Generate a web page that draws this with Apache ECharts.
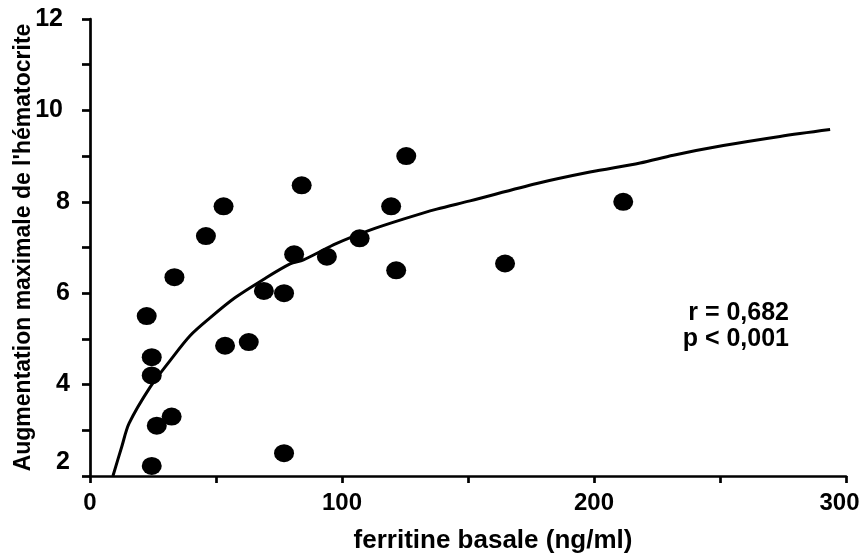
<!DOCTYPE html>
<html>
<head>
<meta charset="utf-8">
<script src="https://cdn.jsdelivr.net/npm/echarts@6/dist/echarts.min.js"></script>
<style>
html,body{margin:0;padding:0;background:#fff;}
#chart{width:864px;height:553px;}
</style>
</head>
<body>
<div id="chart"></div>
<script>
// Scatter points: ferritine basale (ng/ml) vs augmentation maximale de l'hématocrite
const pointX = [22.5, 24.5, 24.5, 24.5, 26.5, 32.4, 33.5, 46, 53, 53.6, 63, 69, 77, 77, 81, 84, 94, 107, 119.5, 121.5, 125.5, 164.7, 211.6];
const pointY = [5.5, 4.6, 4.2, 2.22, 3.1, 3.3, 6.35, 7.25, 7.9, 4.85, 4.93, 6.05, 6.0, 2.5, 6.85, 8.36, 6.8, 7.2, 7.9, 6.5, 9.0, 6.65, 8.0];

// Trend curve, points
const curveX = [9.1, 12.6, 15.5, 23.8, 31.7, 39.7, 47.6, 57.5, 68.8, 79.4, 84.7, 97.9, 111.1, 124.3, 137.6, 150.8, 177.3, 198.4, 218.3, 231.5, 251.3, 273.8, 293.7];
const curveY = [2.0, 2.64, 3.15, 3.94, 4.52, 5.07, 5.46, 5.9, 6.30, 6.64, 6.73, 7.09, 7.38, 7.62, 7.84, 8.02, 8.40, 8.65, 8.85, 9.02, 9.23, 9.43, 9.58];

const xTickLabels = [0, 100, 200, 300];
const yTickLabels = [2, 4, 6, 8, 10, 12];
const xTitle = 'ferritine basale (ng/ml)';
const yTitle = "Augmentation maximale de l'hématocrite";
const statLines = ['r = 0,682', 'p < 0,001'];

const FONT = '"Liberation Sans", Arial, sans-serif';
const chart = echarts.init(document.getElementById('chart'), null, {renderer: 'canvas'});

const scatterData = pointX.map((x, i) => [x, pointY[i]]);
const curveData = curveX.map((x, i) => [x, curveY[i]]);

const labelBase = {fontFamily: FONT, fontWeight: 'bold', color: '#000'};

chart.setOption({
  animation: false,
  backgroundColor: '#fff',
  grid: {left: 90, right: 18, top: 19, bottom: 77, containLabel: false, outerBoundsMode: 'none'},
  xAxis: {
    type: 'value', min: 0, max: 300, interval: 50,
    name: xTitle, nameLocation: 'middle', nameGap: 52, nameMoveOverlap: false,
    nameTextStyle: Object.assign({fontSize: 26, padding: [0, 0, 0, 50]}, labelBase),
    axisLine: {show: true, onZero: false, lineStyle: {color: '#000', width: 2.7}},
    axisTick: {show: true, inside: false, length: 7, lineStyle: {color: '#000', width: 2.7}},
    axisLabel: Object.assign({
      fontSize: 24, margin: 15,
      formatter: v => xTickLabels.includes(v)
        ? (v === xTickLabels[xTickLabels.length - 1] ? '{last|' + v + '}' : String(v)) : '',
      rich: {last: Object.assign({fontSize: 24, padding: [0, 13, 0, 0]}, labelBase)}
    }, labelBase),
    splitLine: {show: false}
  },
  yAxis: {
    type: 'value', min: 2, max: 12, interval: 1,
    name: yTitle, nameLocation: 'middle', nameGap: 55, nameMoveOverlap: false,
    nameTextStyle: Object.assign({fontSize: 23}, labelBase),
    axisLine: {show: true, onZero: false, lineStyle: {color: '#000', width: 2.7}},
    axisTick: {show: true, inside: false, length: 8, lineStyle: {color: '#000', width: 2.7}},
    axisLabel: Object.assign({
      fontSize: 25, margin: 20,
      formatter: v => {
        if (!yTickLabels.includes(v)) return '';
        if (v === yTickLabels[0]) return '{low|' + v + '}';
        if (v >= 10) return '{wide|' + v + '}';
        return String(v);
      },
      rich: {
        low: Object.assign({fontSize: 25, padding: [0, 0, 28, 0]}, labelBase),
        wide: Object.assign({fontSize: 25, padding: [0, 7, 0, 0]}, labelBase)
      }
    }, labelBase),
    splitLine: {show: false}
  },
  series: [
    {
      type: 'line', data: curveData, showSymbol: false, symbol: 'none', smooth: 0.3,
      lineStyle: {color: '#000', width: 3}, z: 2
    },
    {
      type: 'scatter', data: scatterData, symbol: 'circle', symbolSize: [20, 18],
      itemStyle: {color: '#000', opacity: 1}, z: 3
    }
  ],
  graphic: statLines.map((t, i) => ({
    type: 'text', right: 864 - 789, top: 301 + i * 26,
    style: {text: t, fontFamily: FONT, fontWeight: 'bold', fontSize: 25, fill: '#000', textAlign: 'right'}
  }))
});
</script>
</body>
</html>
